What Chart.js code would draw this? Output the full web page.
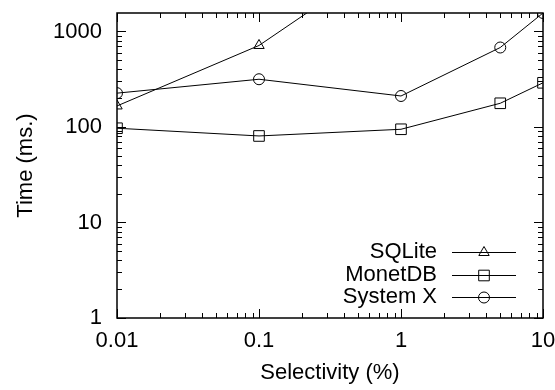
<!DOCTYPE html>
<html><head><meta charset="utf-8">
<style>html,body{margin:0;padding:0;background:#fff;} #wrap{width:555px;height:390px;}</style>
<script src="https://cdn.jsdelivr.net/npm/chart.js@4"></script>
</head><body><div id="wrap"><canvas id="c" width="555" height="390"></canvas></div>
<script>
const selectivity = [0.01, 0.1, 1, 5, 10];
const sqliteSel = [0.01, 0.1, 1];
const sqliteTime = [166, 713, 7300];
const monetdbTime = [97, 80.5, 94.6, 177, 290];
const systemXTime = [226, 316, 211, 679, 1560];
const xTickValues = [0.01, 0.1, 1, 10];
const yTickValues = [1, 10, 100, 1000];
const seriesNames = ['SQLite', 'MonetDB', 'System X'];
const xRange = [0.01, 10];
const yRange = [1, 1560];

const FONT = 'Liberation Sans, Arial, Helvetica, sans-serif';
const FS = 22;
const pts = (xs, ys) => xs.map((x, i) => ({x: x, y: ys[i]}));

function ds(label, data, style, r) {
  return {label, data, borderColor: '#000', borderWidth: 1, backgroundColor: 'rgba(0,0,0,0)',
    pointStyle: style, pointRadius: r, pointHoverRadius: r, pointBorderWidth: 1,
    pointBorderColor: '#000', pointBackgroundColor: 'rgba(0,0,0,0)', tension: 0, fill: false};
}

function logVals(min, max) {
  const out = [];
  for (let e = Math.floor(Math.log10(min)); e <= Math.ceil(Math.log10(max)); e++) {
    for (let m = 1; m <= 9; m++) {
      const v = m * Math.pow(10, e);
      if (v >= min * 0.9999 && v <= max * 1.0001) out.push({v, major: m === 1});
    }
  }
  return out;
}

function drawMarker(ctx, style, r, x, y) {
  ctx.beginPath();
  if (style === 'circle') ctx.arc(x, y, r, 0, Math.PI * 2);
  else if (style === 'rect') { const s = Math.SQRT1_2 * r; ctx.rect(x - s, y - s, 2 * s, 2 * s); }
  else if (style === 'triangle') {
    for (let k = 0; k < 3; k++) {
      const a = -Math.PI / 2 + k * 2 * Math.PI / 3;
      const px = x + r * Math.cos(a), py = y + r * Math.sin(a);
      if (k === 0) ctx.moveTo(px, py); else ctx.lineTo(px, py);
    }
    ctx.closePath();
  }
  ctx.stroke();
}

const decor = {
  id: 'decor',
  afterDraw(chart) {
    const ctx = chart.ctx, a = chart.chartArea, xs = chart.scales.x, ys = chart.scales.y;
    ctx.save();
    ctx.strokeStyle = '#000';
    ctx.lineWidth = 1;
    logVals(xs.min, xs.max).forEach(t => {
      const px = Math.round(xs.getPixelForValue(t.v)) + 0.5, len = t.major ? 9 : 5;
      ctx.beginPath();
      ctx.moveTo(px, a.bottom); ctx.lineTo(px, a.bottom - len);
      ctx.moveTo(px, a.top); ctx.lineTo(px, a.top + len);
      ctx.stroke();
    });
    logVals(ys.min, ys.max).forEach(t => {
      const py = Math.round(ys.getPixelForValue(t.v)) + 0.5, len = t.major ? 9 : 5;
      ctx.beginPath();
      ctx.moveTo(a.left, py); ctx.lineTo(a.left + len, py);
      ctx.moveTo(a.right, py); ctx.lineTo(a.right - len, py);
      ctx.stroke();
    });
    ctx.lineWidth = 1.5;
    ctx.strokeRect(a.left, a.top, a.right - a.left, a.bottom - a.top);
    // legend
    ctx.lineWidth = 1;
    ctx.font = FS + 'px ' + FONT;
    ctx.fillStyle = '#000';
    ctx.textAlign = 'right';
    ctx.textBaseline = 'middle';
    chart.data.datasets.forEach((d, i) => {
      const y = 252 + i * 22.5;
      ctx.fillText(d.label, 437, y);
      ctx.beginPath();
      ctx.moveTo(452, Math.round(y) + 0.5); ctx.lineTo(516, Math.round(y) + 0.5);
      ctx.stroke();
      drawMarker(ctx, d.pointStyle, d.pointRadius, 484, Math.round(y) + 0.5);
    });
    ctx.restore();
  }
};

new Chart(document.getElementById('c'), {
  type: 'line',
  data: {
    datasets: [
      ds(seriesNames[0], pts(sqliteSel, sqliteTime), 'triangle', 6),
      ds(seriesNames[1], pts(selectivity, monetdbTime), 'rect', 7.5),
      ds(seriesNames[2], pts(selectivity, systemXTime), 'circle', 5.5)
    ]
  },
  options: {
    responsive: false,
    animation: false,
    devicePixelRatio: 1,
    layout: {padding: {left: 0, right: 12, top: 13, bottom: 0}},
    plugins: {legend: {display: false}, tooltip: {enabled: false}},
    scales: {
      x: {
        type: 'logarithmic', min: xRange[0], max: xRange[1],
        afterBuildTicks: s => { s.ticks = xTickValues.map(v => ({value: v})); },
        afterFit: s => { s.height = 72; s.paddingLeft = 0; s.paddingRight = 0; },
        grid: {display: false, drawTicks: false},
        border: {display: false},
        ticks: {padding: 10, color: '#000', font: {family: FONT, size: FS}, maxRotation: 0, autoSkip: false,
          callback: v => String(v)},
        title: {display: true, text: 'Selectivity (%)', color: '#000', font: {family: FONT, size: FS}, padding: {top: 4, bottom: 4}}
      },
      y: {
        type: 'logarithmic', min: yRange[0], max: yRange[1],
        afterBuildTicks: s => { s.ticks = yTickValues.map(v => ({value: v})); },
        afterFit: s => { s.width = 117; s.paddingTop = 0; s.paddingBottom = 0; },
        grid: {display: false, drawTicks: false},
        border: {display: false},
        ticks: {padding: 15, color: '#000', font: {family: FONT, size: FS}, autoSkip: false,
          callback: v => String(v)},
        title: {display: true, text: 'Time (ms.)', color: '#000', font: {family: FONT, size: FS}, padding: {top: 13, bottom: 13}}
      }
    }
  },
  plugins: [decor]
});
</script></body></html>
